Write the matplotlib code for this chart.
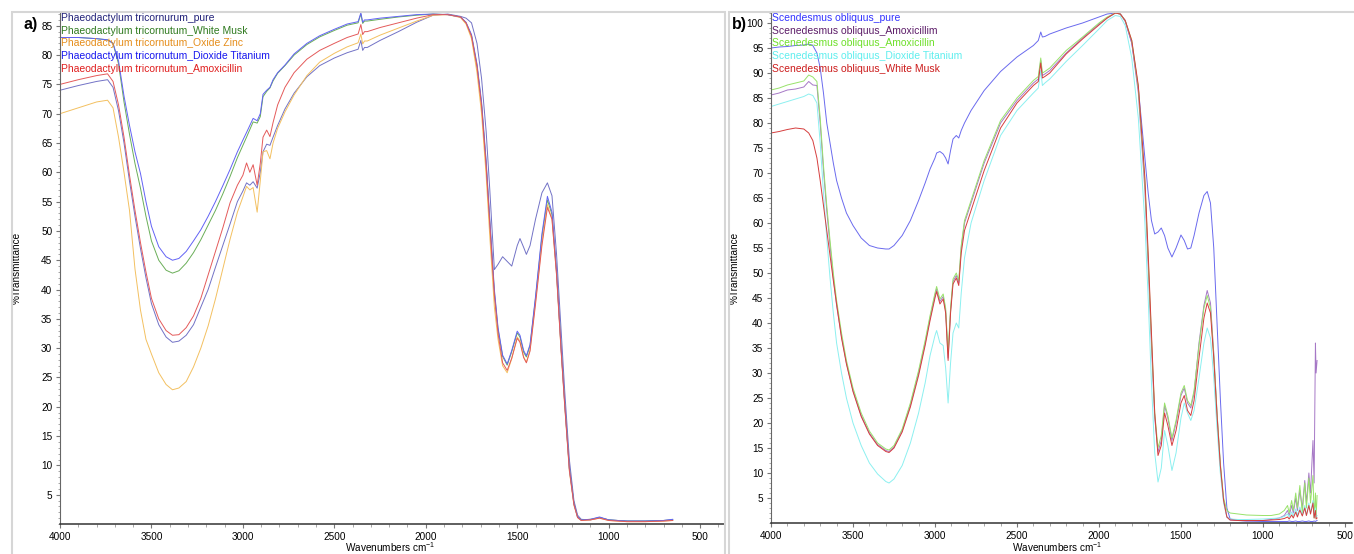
import matplotlib
matplotlib.use("Agg")
import matplotlib.pyplot as plt
from matplotlib.patches import Rectangle
from matplotlib.ticker import MultipleLocator

plt.rcParams['font.family'] = ['Liberation Sans', 'DejaVu Sans']
plt.rcParams['mathtext.default'] = 'regular'

# ---------------- panel a) Phaeodactylum tricornutum ----------------
wn_a = [4000, 3900, 3800, 3740, 3710, 3680, 3650, 3620, 3590, 3560,
        3530, 3500, 3460, 3420, 3385, 3350, 3310, 3270, 3230, 3190, 3150, 3110, 3070, 3030,
        3000, 2980, 2962, 2944, 2922, 2905, 2890, 2870, 2852, 2835, 2810,
        2770, 2720, 2650, 2580, 2500, 2430, 2370, 2355, 2345, 2335, 2320, 2250,
        2150, 2050, 1960, 1880, 1810, 1780, 1750, 1720, 1695, 1670, 1650,
        1625, 1605, 1580, 1555, 1530, 1500, 1485, 1465, 1450, 1430, 1400,
        1365, 1335, 1310, 1285, 1260, 1240, 1215, 1190, 1170, 1150, 1100, 1050, 1000, 900, 800, 700, 650]

pt_pure = [74.0, 74.8, 75.5, 75.8, 74.5, 70.5, 65.0, 58.5, 52.5, 47.0,
           42.0, 37.6, 34.0, 31.9, 31.0, 31.2, 32.2, 34.0, 37.0, 40.0, 43.8, 47.5, 51.2, 55.0,
           56.8, 58.2, 57.8, 58.4, 57.3, 60.0, 63.5, 64.8, 64.6, 66.0, 68.0,
           70.8, 73.5, 76.3, 78.2, 79.5, 80.4, 81.0, 82.5, 80.8, 81.3, 81.3, 82.5,
           84.0, 85.6, 86.8, 87.0, 86.6, 86.3, 85.5, 82.0, 76.0, 67.0, 57.0,
           43.4, 44.3, 45.6, 44.8, 44.0, 47.5, 48.7, 47.2, 46.0, 47.5, 52.0,
           56.5, 58.2, 56.0, 46.0, 33.0, 22.5, 11.0, 4.0, 1.5, 0.8, 0.7, 1.1, 0.7, 0.5, 0.5, 0.6, 0.7]

pt_musk = [83.0, 83.0, 82.8, 82.6, 82.0, 78.5, 72.0, 66.5, 61.5, 57.3,
           52.5, 48.3, 45.0, 43.3, 42.8, 43.2, 44.5, 46.3, 48.5, 51.0, 53.5, 56.3, 59.3, 62.5,
           64.6, 66.0, 67.3, 68.6, 68.4, 69.5, 72.9, 73.8, 74.4, 75.6, 76.9,
           78.2, 80.0, 81.8, 83.1, 84.2, 85.1, 85.5, 87.0, 85.4, 85.8, 85.8, 86.1,
           86.5, 86.8, 87.0, 86.9, 86.5, 85.5, 83.3, 78.2, 71.6, 61.5, 51.5,
           39.5, 33.2, 28.6, 27.1, 29.4, 32.6, 31.9, 29.3, 28.5, 30.4, 38.5,
           49.0, 55.3, 52.8, 43.0, 30.0, 20.5, 9.5, 3.5, 1.2, 0.7, 0.8, 1.1, 0.7, 0.5, 0.5, 0.6, 0.7]

pt_zinc = [70.0, 71.0, 72.0, 72.3, 71.0, 66.0, 60.0, 53.5, 43.5, 36.5,
           31.5, 29.0, 25.8, 23.8, 22.9, 23.2, 24.3, 26.8, 30.0, 33.8, 38.4, 43.5, 48.6, 53.2,
           55.8, 57.6, 57.0, 57.4, 53.2, 58.5, 63.5, 63.7, 62.3, 65.0, 67.5,
           70.3, 73.2, 76.5, 78.8, 80.3, 81.4, 82.1, 83.6, 81.9, 82.4, 82.4, 83.4,
           84.6, 85.8, 86.8, 86.9, 86.4, 85.3, 82.8, 77.0, 70.0, 59.5, 49.0,
           37.0, 31.5, 27.0, 25.8, 28.2, 31.9, 31.2, 28.5, 27.6, 29.7, 38.0,
           48.0, 54.5, 52.0, 42.5, 29.5, 20.0, 9.0, 3.2, 1.1, 0.6, 0.7, 1.0, 0.6, 0.4, 0.4, 0.5, 0.6]

pt_tio2 = [83.0, 83.0, 82.8, 82.6, 82.0, 79.0, 73.0, 68.0, 63.5, 59.8,
           55.0, 50.8, 47.3, 45.6, 45.0, 45.3, 46.5, 48.3, 50.2, 52.5, 55.0, 57.7, 60.5, 63.5,
           65.5, 66.8, 68.0, 69.2, 68.8, 70.0, 73.3, 74.0, 74.5, 75.8, 77.0,
           78.3, 80.2, 82.0, 83.3, 84.4, 85.3, 85.7, 87.2, 85.6, 86.0, 86.0, 86.3,
           86.6, 86.9, 87.0, 86.9, 86.5, 85.6, 83.5, 78.5, 72.0, 62.0, 52.0,
           40.0, 33.5, 28.8, 27.3, 29.6, 32.9, 32.2, 29.6, 28.7, 30.6, 38.8,
           49.5, 55.9, 53.2, 43.2, 30.0, 20.5, 9.5, 3.5, 1.2, 0.7, 0.8, 1.2, 0.7, 0.5, 0.5, 0.6, 0.8]

pt_amox = [75.0, 75.8, 76.5, 76.8, 75.5, 71.5, 66.0, 59.5, 53.5, 48.0,
           43.0, 38.5, 35.0, 33.0, 32.2, 32.3, 33.5, 35.5, 38.5, 42.5, 46.5, 50.5, 54.8, 57.8,
           59.5, 61.6, 60.0, 61.3, 57.8, 61.5, 66.0, 67.2, 66.1, 68.5, 71.5,
           74.5, 77.0, 79.3, 80.8, 82.0, 83.0, 83.6, 85.2, 83.5, 84.0, 84.0, 84.7,
           85.5, 86.3, 86.9, 86.9, 86.5, 85.5, 83.2, 78.0, 71.3, 61.0, 51.0,
           39.0, 32.5, 27.5, 26.2, 28.3, 31.7, 31.0, 28.4, 27.5, 29.5, 37.5,
           47.5, 54.0, 52.0, 42.5, 29.5, 20.0, 9.2, 3.3, 1.1, 0.6, 0.7, 1.0, 0.6, 0.4, 0.4, 0.5, 0.6]

labels_a = ['Phaeodactylum tricornurum_pure', 'Phaeodactylum tricornutum_White Musk',
            'Phaeodactylum tricornutum_Oxide Zinc', 'Phaeodactylum tricornutum_Dioxide Titanium',
            'Phaeodactylum tricornutum_Amoxicillin']
series_a = [pt_pure, pt_musk, pt_zinc, pt_tio2, pt_amox]
line_colors_a = ['#7272c6', '#6aae58', '#f3c060', '#6262f5', '#e45a5a']
text_colors_a = ['#22227a', '#2f7a1f', '#e58d1a', '#1717ee', '#e01e1e']

# ---------------- panel b) Scenedesmus obliquus ----------------
wn_b = [4000, 3950, 3900, 3850, 3800, 3770, 3745, 3720, 3700, 3680, 3660, 3640, 3620, 3600,
        3570, 3540, 3500, 3450, 3400, 3350, 3300, 3280, 3250, 3200, 3150, 3100, 3060, 3030, 3000,
        2990, 2970, 2950, 2935, 2920, 2905, 2890, 2870, 2855, 2840, 2820, 2780, 2700, 2600,
        2500, 2400, 2370, 2355, 2345, 2330, 2300, 2200, 2100, 2000, 1950, 1900, 1870, 1840, 1800,
        1760, 1720, 1700, 1680, 1660, 1640, 1620, 1600, 1580, 1555, 1530, 1500, 1480, 1460, 1440, 1420,
        1390, 1360, 1340, 1320, 1300, 1280, 1260, 1240, 1220, 1200, 1150, 1100, 1000, 950, 900,
        870, 850, 840, 825, 815, 800, 790, 775, 760, 745, 735, 720, 710, 695, 688, 680, 676, 670]

so_pure = [95.0, 95.2, 95.3, 95.5, 95.6, 95.8, 95.5, 94.0, 91.0, 86.0, 80.0, 76.0, 72.0, 68.5,
           65.0, 62.0, 59.5, 57.0, 55.5, 55.0, 54.8, 54.8, 55.5, 57.5, 60.5, 64.5, 68.0, 70.8, 73.0,
           74.0, 74.3, 73.8, 73.0, 71.8, 74.5, 76.8, 77.5, 77.0, 78.5, 80.0, 82.5, 86.5, 90.3,
           93.2, 95.5, 96.5, 98.2, 97.2, 97.3, 97.8, 99.0, 100.0, 101.2, 101.8, 102.0, 101.8, 100.5, 96.0,
           87.0, 73.0, 66.0, 60.5, 57.8, 58.2, 59.0, 57.5, 55.0, 53.2, 55.0, 57.6, 56.5, 54.8, 55.0, 57.5,
           62.0, 65.5, 66.3, 64.0, 55.0, 40.0, 25.0, 12.0, 3.0, 0.8, 0.5, 0.4, 0.3, 0.3, 0.3,
           0.3, 0.3, 0.4, 0.3, 0.3, 0.4, 0.3, 0.3, 0.4, 0.3, 0.3, 0.4, 0.3, 0.3, 0.4, 0.3, 0.4, 0.5]

so_amoxm = [85.6, 86.0, 86.6, 86.8, 87.2, 88.3, 87.6, 87.5, 80.0, 70.5, 62.5, 55.5, 49.0, 43.5,
            37.3, 32.0, 26.5, 21.5, 18.0, 15.7, 14.5, 14.3, 15.2, 18.5, 23.6, 30.0, 36.0, 41.0, 45.5,
            46.8, 44.3, 45.3, 42.5, 33.0, 42.5, 48.3, 49.5, 48.0, 55.0, 60.0, 64.0, 72.0, 80.0,
            84.5, 88.0, 88.8, 92.5, 89.5, 89.8, 90.5, 94.0, 97.0, 99.8, 101.0, 102.0, 101.8, 100.3, 96.0,
            86.0, 66.5, 51.5, 35.5, 21.0, 14.2, 16.5, 23.5, 21.0, 16.5, 20.0, 25.5, 27.0, 24.0, 23.0, 26.0,
            36.0, 43.5, 46.5, 44.0, 34.0, 22.0, 11.5, 4.5, 1.2, 0.6, 0.5, 0.4, 0.5, 0.7, 1.0,
            1.5, 2.5, 1.5, 3.5, 2.0, 5.0, 2.5, 6.5, 3.0, 8.5, 4.0, 10.0, 6.0, 16.5, 8.0, 36.0, 30.0, 32.5]

so_amox = [86.6, 87.0, 87.6, 88.0, 88.4, 89.6, 89.2, 88.3, 81.0, 71.5, 63.5, 56.5, 50.0, 44.5,
           38.0, 32.5, 27.0, 22.0, 18.4, 16.0, 14.8, 14.6, 15.5, 18.8, 24.0, 30.5, 36.5, 41.5, 46.0,
           47.3, 44.8, 45.8, 43.0, 34.0, 43.0, 48.8, 50.0, 48.5, 55.5, 60.5, 64.5, 72.5, 80.5,
           85.0, 88.5, 89.3, 93.0, 90.0, 90.3, 91.0, 94.5, 97.2, 100.0, 101.2, 102.0, 101.8, 100.5, 96.5,
           87.0, 68.0, 53.0, 37.0, 22.0, 15.0, 17.5, 24.0, 21.5, 17.0, 20.5, 26.0, 27.5, 24.5, 23.5, 26.5,
           35.5, 43.0, 45.5, 43.0, 33.5, 22.0, 12.0, 5.0, 2.5, 2.0, 1.8, 1.6, 1.5, 1.5, 1.8,
           2.5, 3.5, 2.0, 4.5, 2.5, 6.0, 3.0, 7.5, 2.0, 8.0, 3.0, 9.0, 4.0, 9.5, 1.0, 6.0, 1.0, 5.5]

so_tio2 = [83.3, 83.8, 84.3, 84.8, 85.3, 85.8, 85.5, 84.0, 76.0, 66.0, 57.0, 49.0, 42.0, 36.0,
           30.0, 25.0, 20.0, 15.5, 12.0, 9.8, 8.3, 8.0, 8.8, 11.5, 16.0, 22.0, 28.0, 33.5, 37.5,
           38.5, 36.0, 35.5, 31.0, 24.0, 32.0, 38.0, 40.0, 39.0, 46.0, 53.0, 60.0, 68.5, 77.5,
           82.5, 86.0, 87.0, 90.5, 87.5, 88.0, 88.8, 92.3, 95.5, 98.8, 100.5, 101.5, 101.3, 99.5, 93.0,
           81.0, 60.0, 45.0, 28.0, 14.0, 8.2, 11.0, 18.5, 15.5, 10.5, 14.0, 21.0, 24.0, 22.0, 20.5, 22.5,
           29.0, 36.0, 39.0, 37.0, 29.0, 19.0, 10.0, 4.0, 1.2, 0.8, 0.7, 0.7, 0.8, 0.9, 1.0,
           1.3, 1.8, 1.2, 2.2, 1.4, 2.8, 1.5, 3.2, 1.6, 3.5, 1.5, 4.0, 2.0, 4.5, 1.2, 3.0, 1.0, 1.5]

so_musk = [78.0, 78.3, 78.7, 79.0, 78.8, 78.0, 76.5, 73.0, 68.5, 63.5, 58.5, 53.5, 48.5, 43.8,
           37.0, 31.8, 26.3, 21.3, 17.8, 15.5, 14.3, 14.1, 15.0, 18.2, 23.2, 29.5, 35.5, 40.5, 45.0,
           46.3, 43.8, 44.8, 42.0, 32.5, 42.0, 47.8, 49.0, 47.5, 54.0, 58.5, 62.5, 70.5, 79.0,
           84.0, 87.5, 88.3, 92.0, 89.0, 89.3, 90.0, 93.8, 96.8, 99.6, 101.0, 102.0, 101.8, 100.5, 96.5,
           87.5, 69.0, 54.0, 38.0, 22.0, 13.5, 15.5, 22.0, 19.5, 15.5, 18.5, 24.0, 25.5, 22.5, 21.5, 24.5,
           33.0, 41.0, 44.0, 42.0, 33.0, 21.5, 11.5, 4.5, 1.2, 0.6, 0.5, 0.5, 0.5, 0.6, 0.7,
           0.9, 1.2, 0.8, 1.6, 1.0, 2.2, 1.2, 2.6, 1.4, 3.0, 1.5, 3.5, 1.8, 4.0, 1.0, 2.5, 0.8, 1.0]

labels_b = ['Scendesmus obliquus_pure', 'Scenedesmus obliquus_Amoxicillim',
            'Scenedesmus obliquus_Amoxicillin', 'Scenedesmus obliquus_Dioxide Titanium',
            'Scenedesmus obliquus_White Musk']
series_b = [so_pure, so_amoxm, so_amox, so_tio2, so_musk]
line_colors_b = ['#6a6aee', '#a678c6', '#98e26a', '#8cf0f0', '#d63e3e']
text_colors_b = ['#3333ff', '#5c1c68', '#6ee02a', '#5eeeee', '#cc1c1c']

W, H = 1354, 554
fig = plt.figure(figsize=(W / 100, H / 100), dpi=100)

# light grey panel frames
fig.add_artist(Rectangle((12 / W, -0.01), (725 - 12) / W, 1.01 - 12 / H, transform=fig.transFigure,
                         fill=False, edgecolor='#d6d6d6', lw=1.5))
fig.add_artist(Rectangle((729 / W, -0.01), (W + 5 - 729) / W, 1.01 - 12 / H, transform=fig.transFigure,
                         fill=False, edgecolor='#d6d6d6', lw=1.5))

ax_a = fig.add_axes([60 / W, 30 / H, 665 / W, 512.3 / H])
ax_b = fig.add_axes([771 / W, 31 / H, 581 / W, 511 / H])


def style_axis(ax, xlim, ylim, ymax_tick, xlab_pos, ylab_pos):
    ax.set_xlim(*xlim)
    ax.set_ylim(*ylim)
    ax.set_facecolor('none')
    for s in ['top', 'right']:
        ax.spines[s].set_visible(False)
    ax.spines['left'].set_color('#666666')
    ax.spines['bottom'].set_color('#333333')
    ax.spines['bottom'].set_linewidth(1.1)
    ax.set_xticks(range(4000, 499, -500))
    ax.xaxis.set_minor_locator(MultipleLocator(100))
    ax.set_yticks(range(5, ymax_tick + 1, 5))
    ax.yaxis.set_minor_locator(MultipleLocator(1))
    ax.tick_params(which='major', direction='out', length=3, width=0.8, color='#777777',
                   labelsize=7.2, pad=2.5)
    ax.tick_params(which='minor', direction='out', length=1.8, width=0.6, color='#999999')
    ax.set_xlabel('Wavenumbers cm$^{-1}$', fontsize=7.2)
    ax.set_ylabel('%Transmittance', fontsize=7.2)
    ax.xaxis.set_label_coords(*xlab_pos)
    ax.yaxis.set_label_coords(*ylab_pos)


for ys, c in zip(series_a, line_colors_a):
    ax_a.plot(wn_a, ys, color=c, lw=0.7)
for ys, c in zip(series_b, line_colors_b):
    ax_b.plot(wn_b, ys, color=c, lw=0.7)

style_axis(ax_a, (4000, 364), (0, 87.4), 85, (0.496, -0.032), (-0.058, 0.5))
style_axis(ax_b, (4000, 457), (0, 102.2), 100, (0.492, -0.034), (-0.054, 0.5))

legend_y = [18.3, 31, 43.5, 56, 69]
for lab, c, y in zip(labels_a, text_colors_a, legend_y):
    fig.text(61 / W, 1 - y / H, lab, color=c, fontsize=7.5, va='center', ha='left')
for lab, c, y in zip(labels_b, text_colors_b, legend_y):
    fig.text(771.5 / W, 1 - y / H, lab, color=c, fontsize=7.5, va='center', ha='left')

fig.text(23 / W, 1 - 24 / H, 'a)', fontsize=11.5, fontweight='bold', va='center', ha='left')
fig.text(732 / W, 1 - 24 / H, 'b)', fontsize=11.5, fontweight='bold', va='center', ha='left')

fig.savefig('out.png', dpi=100)
